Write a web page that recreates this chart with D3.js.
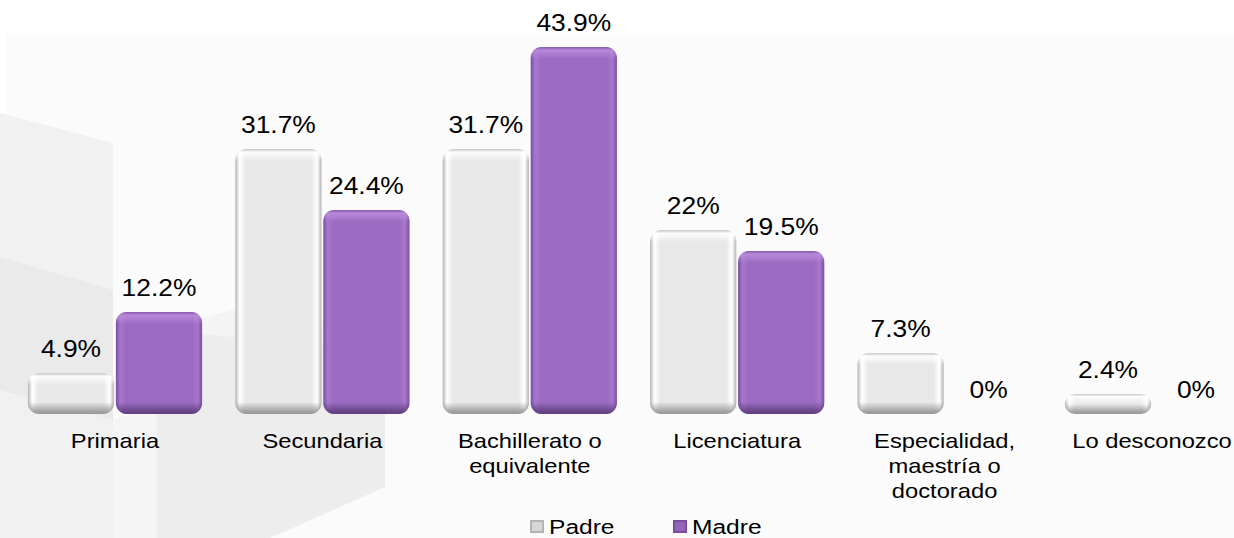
<!DOCTYPE html>
<html>
<head>
<meta charset="utf-8">
<script src="https://cdn.jsdelivr.net/npm/d3@7"></script>
<style>
  body { margin: 0; background: #fff; }
  svg { display: block; font-family: "Liberation Sans", Arial, sans-serif; }
</style>
</head>
<body>
<script>
'use strict';

// chart data
const categories = ["Primaria", "Secundaria", "Bachillerato o equivalente", "Licenciatura",
  "Especialidad, maestría o doctorado", "Lo desconozco"];
const categoryLines = [["Primaria"], ["Secundaria"], ["Bachillerato o", "equivalente"], ["Licenciatura"],
  ["Especialidad,", "maestría o", "doctorado"], ["Lo desconozco"]];
const seriesNames = ["Padre", "Madre"];
const padreValues = [4.9, 31.7, 31.7, 22, 7.3, 2.4];
const madreValues = [12.2, 24.4, 43.9, 19.5, 0, 0];

const W = 1234, H = 538;

const svg = d3.select('body').append('svg')
  .attr('width', W)
  .attr('height', H);

const defs = svg.append('defs');

// colours for each series: edge, face, highlight, shadow
const look = {
  Padre: { edge: '#b4b4b4', face: '#e8e8e8', lite: '#ffffff', side: '#ffffff', dark: '#8e8e8e' },
  Madre: { edge: '#7a4e9f', face: '#9b6bc2', lite: '#bb8ddc', side: '#a677cc', dark: '#5a3a78' }
};

seriesNames.forEach(s => {
  const c = look[s];
  const h = defs.append('linearGradient').attr('id', 'side-' + s)
    .attr('x1', 0).attr('x2', 1).attr('y1', 0).attr('y2', 0);
  [[0, c.edge], [0.05, c.side], [0.12, c.face], [0.88, c.face], [0.95, c.side], [1, c.edge]]
    .forEach(d => h.append('stop').attr('offset', d[0]).attr('stop-color', d[1]));
  const top = defs.append('linearGradient').attr('id', 'top-' + s)
    .attr('x1', 0).attr('x2', 0).attr('y1', 0).attr('y2', 1);
  top.append('stop').attr('offset', 0).attr('stop-color', c.edge).attr('stop-opacity', 0.6);
  top.append('stop').attr('offset', 0.25).attr('stop-color', c.lite).attr('stop-opacity', 0.9);
  top.append('stop').attr('offset', 1).attr('stop-color', c.lite).attr('stop-opacity', 0);
  const bot = defs.append('linearGradient').attr('id', 'bot-' + s)
    .attr('x1', 0).attr('x2', 0).attr('y1', 0).attr('y2', 1);
  bot.append('stop').attr('offset', 0).attr('stop-color', c.dark).attr('stop-opacity', 0);
  bot.append('stop').attr('offset', 0.75).attr('stop-color', c.dark).attr('stop-opacity', 0.75);
  bot.append('stop').attr('offset', 1).attr('stop-color', c.dark).attr('stop-opacity', 0.9);
});

// faint background: plot area + grey cube shapes
svg.append('rect').attr('x', 7).attr('y', 33).attr('width', W - 7).attr('height', H - 33)
  .attr('fill', '#fbfbfb');

const bgShapes = [
  { pts: [[0, 113], [113, 143], [113, 538], [0, 538]], fill: '#f1f1f1' },
  { pts: [[0, 257], [113, 290], [113, 420], [0, 390]], fill: '#eaeaea' },
  { pts: [[113, 420], [157, 405], [157, 538], [113, 538]], fill: '#f5f5f5' },
  { pts: [[157, 330], [385, 350], [385, 487], [270, 538], [157, 538]], fill: '#ededed' },
  { pts: [[157, 330], [270, 300], [385, 350]], fill: '#f4f4f4' }
];
svg.selectAll('.bg')
  .data(bgShapes)
  .enter()
  .append('polygon')
  .attr('class', 'bg')
  .attr('points', d => d.pts.map(p => p.join(',')).join(' '))
  .attr('fill', d => d.fill);

// scales
const x0 = d3.scaleBand()
  .domain(categories)
  .range([11.3, 1255.7])
  .paddingInner(0.16)
  .paddingOuter(0.08);

const x1 = d3.scaleBand()
  .domain(seriesNames)
  .range([0, x0.bandwidth()])
  .paddingInner(0.02);

const y = d3.scaleLinear()
  .domain([0, 45])
  .range([414, 414 - 45 * 8.36]);

const rows = [];
categories.forEach((c, i) => {
  rows.push({ cat: c, s: 'Padre', v: padreValues[i], i: i });
  rows.push({ cat: c, s: 'Madre', v: madreValues[i], i: i });
});

const bars = svg.selectAll('.bar')
  .data(rows.filter(d => d.v > 0))
  .enter()
  .append('g')
  .attr('class', 'bar');

bars.each(function(d, k) {
  const g = d3.select(this);
  const bx = x0(d.cat) + x1(d.s);
  const bw = x1.bandwidth();
  const by = y(d.v);
  const bh = y(0) - y(d.v);
  const r = Math.min(11, bh / 2);
  const id = 'clip' + k;
  defs.append('clipPath').attr('id', id)
    .append('rect').attr('x', bx).attr('y', by).attr('width', bw).attr('height', bh)
    .attr('rx', r).attr('ry', r);
  g.append('rect')
    .attr('x', bx).attr('y', by).attr('width', bw).attr('height', bh)
    .attr('rx', r).attr('ry', r)
    .attr('fill', 'url(#side-' + d.s + ')');
  const cap = Math.min(12, bh / 2);
  g.append('rect')
    .attr('clip-path', 'url(#' + id + ')')
    .attr('x', bx).attr('y', by).attr('width', bw).attr('height', cap)
    .attr('fill', 'url(#top-' + d.s + ')');
  g.append('rect')
    .attr('clip-path', 'url(#' + id + ')')
    .attr('x', bx).attr('y', by + bh - cap).attr('width', bw).attr('height', cap)
    .attr('fill', 'url(#bot-' + d.s + ')');
});

// value labels
svg.selectAll('.val')
  .data(rows)
  .enter()
  .append('text')
  .attr('class', 'val')
  .attr('transform', d => 'translate(' + (x0(d.cat) + x1(d.s) + x1.bandwidth() / 2) + ',' + (y(d.v) - 16) + ') scale(1.1,1)')
  .attr('text-anchor', 'middle')
  .style('font-size', '24px')
  .attr('fill', '#000')
  .text(d => d.v + '%');

// category labels
const catLabel = svg.selectAll('.cat')
  .data(categories)
  .enter()
  .append('text')
  .attr('class', 'cat')
  .attr('transform', d => 'translate(' + (x0(d) + x0.bandwidth() / 2) + ',448) scale(1.13,1)')
  .attr('text-anchor', 'middle')
  .style('font-size', '21px')
  .attr('fill', '#000');

catLabel.selectAll('tspan')
  .data((d, i) => categoryLines[i])
  .enter()
  .append('tspan')
  .attr('x', 0)
  .attr('y', (d, i) => i * 25)
  .text(d => d);

// legend
const legendX = [530, 673];
const legend = svg.selectAll('.legend')
  .data(seriesNames)
  .enter()
  .append('g')
  .attr('class', 'legend')
  .attr('transform', (d, i) => 'translate(' + legendX[i] + ',520)');

legend.append('rect')
  .attr('width', 14).attr('height', 13)
  .attr('fill', d => look[d].edge);
legend.append('rect')
  .attr('x', 2).attr('y', 2).attr('width', 10).attr('height', 9)
  .attr('fill', d => d === 'Padre' ? '#d6d6d6' : '#9564bd');

legend.append('text')
  .attr('transform', 'translate(19,14) scale(1.17,1)')
  .style('font-size', '21px')
  .attr('fill', '#000')
  .text(d => d);
</script>
</body>
</html>
